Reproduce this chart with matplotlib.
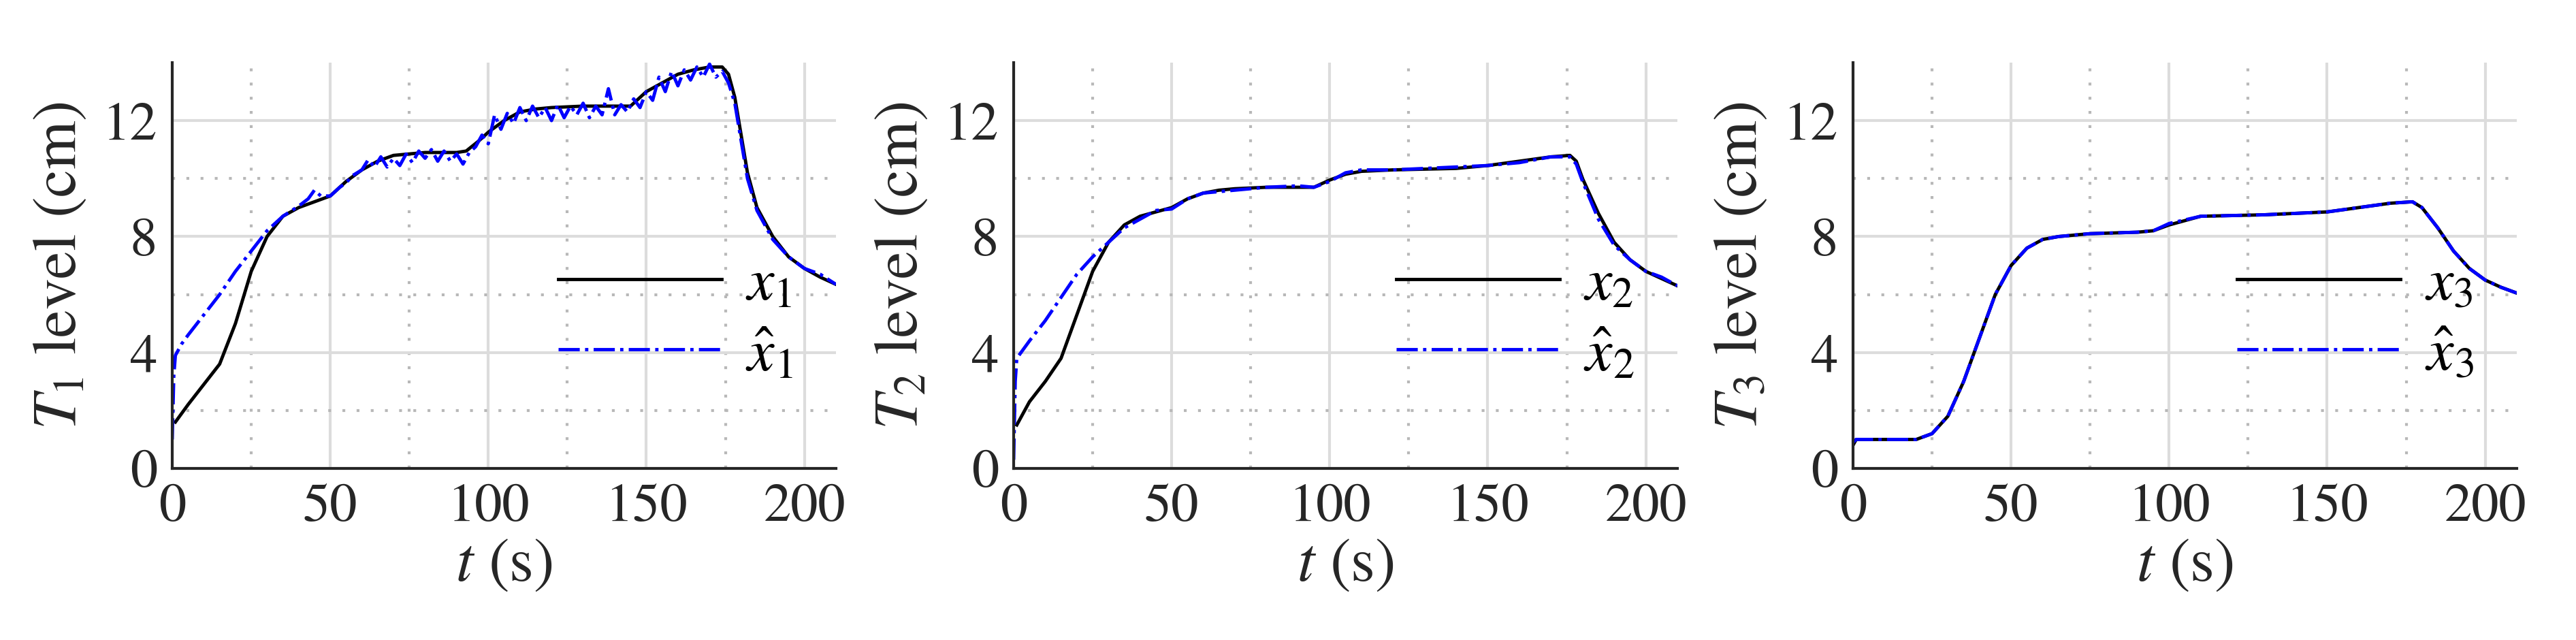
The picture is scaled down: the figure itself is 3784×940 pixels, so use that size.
import matplotlib
matplotlib.use('Agg')
import matplotlib.pyplot as plt
from matplotlib.ticker import MultipleLocator, FixedLocator

plt.rcParams['font.family'] = ['STIXGeneral', 'DejaVu Serif']
plt.rcParams['mathtext.fontset'] = 'stix'

t1 = [1,5,10,15,20,25,30,35,40,45,50,55,60,65,70,75,80,90,93,97,100,105,110,115,120,130,145,150,155,160,165,170,174,176,178,180,182,185,190,195,200,205,210]
x1 = [1.6,2.2,2.9,3.6,5.0,6.8,8.0,8.7,9.0,9.2,9.4,9.9,10.3,10.6,10.8,10.85,10.9,10.9,10.95,11.3,11.6,12.0,12.3,12.4,12.45,12.5,12.5,13.0,13.3,13.6,13.75,13.85,13.85,13.6,12.8,11.5,10.2,9.0,8.0,7.3,6.9,6.6,6.35]
th1 = [0,0.5,1,3,5,10,15,20,25,30,35,40,43,45,47,50,53,55,57,60,62,64,66,68,70,72,74,76,78,80,82,84,86,88,90,92,94,96,98,100,102,104,106,108,110,112,114,116,118,120,122,124,126,128,130,132,134,136,138,140,142,144,146,148,150,152,154,156,158,160,162,164,166,168,170,172,174,176,178,180,182,185,190,195,200,205,210]
xh1 = [1.0,3.2,3.9,4.3,4.6,5.3,6.0,6.8,7.5,8.2,8.7,9.05,9.3,9.6,9.4,9.4,9.7,9.85,10.1,10.3,10.65,10.4,10.75,10.4,10.7,10.45,10.85,10.55,10.95,10.7,11.0,10.6,10.95,10.6,10.85,10.5,10.9,11.1,11.5,11.2,12.2,11.7,12.25,11.9,12.45,12.0,12.5,12.1,12.45,12.0,12.55,12.1,12.5,12.2,12.6,12.1,12.5,12.2,13.1,12.2,12.55,12.3,12.75,12.45,13.0,12.7,13.5,13.0,13.7,13.2,13.75,13.4,13.85,13.5,13.95,13.5,13.7,13.3,12.6,11.3,10.0,8.9,7.9,7.3,6.9,6.7,6.35]

t2 = [1,5,10,15,20,25,30,35,40,45,50,55,60,65,70,80,95,100,105,110,120,140,150,160,170,176,178,180,185,190,195,200,205,210]
x2 = [1.5,2.3,3.0,3.8,5.3,6.8,7.8,8.4,8.7,8.85,9.0,9.3,9.5,9.6,9.65,9.7,9.7,9.95,10.15,10.25,10.3,10.35,10.45,10.6,10.75,10.8,10.6,10.0,8.8,7.8,7.2,6.8,6.55,6.3]
th2 = [0,0.5,1,5,10,15,20,25,30,35,40,45,50,55,60,70,80,90,95,100,105,110,120,130,140,150,160,170,176,178,180,185,190,195,200,205,210]
xh2 = [0.3,3.0,3.8,4.4,5.1,5.9,6.7,7.3,7.8,8.3,8.6,8.9,8.95,9.3,9.5,9.6,9.7,9.75,9.7,9.9,10.2,10.3,10.3,10.35,10.4,10.45,10.55,10.75,10.75,10.5,9.9,8.6,7.7,7.2,6.8,6.6,6.3]

t3 = [0,1,20,25,30,35,40,45,50,55,60,65,75,90,95,100,110,130,150,160,170,177,180,185,190,195,200,205,210]
x3 = [0.8,1.0,1.0,1.2,1.8,3.0,4.5,6.0,7.0,7.6,7.9,8.0,8.1,8.15,8.2,8.4,8.7,8.75,8.85,9.0,9.15,9.2,9.0,8.3,7.5,6.9,6.5,6.25,6.05]
xh3 = [0.9,1.0,1.0,1.2,1.8,3.0,4.5,6.0,7.0,7.6,7.9,8.0,8.1,8.15,8.2,8.45,8.7,8.75,8.85,9.0,9.15,9.2,9.0,8.3,7.5,6.9,6.5,6.25,6.05]

panels = [(t1, x1, th1, xh1, 1), (t2, x2, th2, xh2, 2), (t3, x3, t3, xh3, 3)]

fig = plt.figure(figsize=(37.84, 9.4), dpi=100)
lefts = [253, 1489, 2722]
W, H = 3784, 940
for (t, x, th, xh, k), l in zip(panels, lefts):
    ax = fig.add_axes([l / W, (H - 688) / H, 975 / W, 596 / H])
    ax.plot(t, x, color='black', lw=3.5, label=f'$x_{k}$')
    ax.plot(th, xh, color='blue', lw=3.5, ls='-.', label=f'$\\hat{{x}}_{k}$')
    ax.set_xlim(0, 210)
    ax.set_ylim(0, 14)
    ax.xaxis.set_major_locator(MultipleLocator(50))
    ax.xaxis.set_minor_locator(FixedLocator([25, 75, 125, 175]))
    ax.yaxis.set_major_locator(MultipleLocator(4))
    ax.yaxis.set_minor_locator(FixedLocator([2, 6, 10]))
    ax.grid(which='major', color='#dcdcdc', lw=3)
    ax.grid(which='minor', color='#b8b8b8', lw=3, ls=(0, (1, 4)))
    ax.set_axisbelow(True)
    for s in ['top', 'right']:
        ax.spines[s].set_visible(False)
    for s in ['left', 'bottom']:
        ax.spines[s].set_linewidth(3)
        ax.spines[s].set_color('#262626')
    ax.tick_params(which='both', length=0, labelsize=58, colors='#262626', pad=16)
    ax.set_xlabel('$t$ (s)', fontsize=66, color='#262626', labelpad=6)
    ax.set_ylabel(f'$T_{k}$ level (cm)', fontsize=66, color='#262626', labelpad=14)
    ax.legend(loc='lower right', bbox_to_anchor=(0.99, 0.12), frameon=False,
              fontsize=64, handlelength=2.7, labelspacing=0.25, handletextpad=0.4,
              borderaxespad=0.2)

fig.savefig('out.png', dpi=100)
